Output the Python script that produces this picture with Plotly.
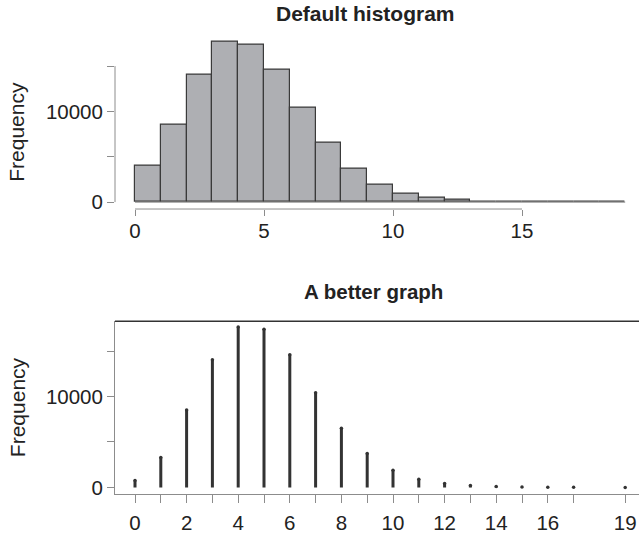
import numpy as np
import plotly.graph_objects as go

# ---- data ----
values = [0, 1, 2, 3, 4, 5, 6, 7, 8, 9, 10, 11, 12, 13, 14, 15, 16, 17, 19]
counts = [760, 3300, 8520, 14060, 17650, 17420, 14600, 10420, 6520, 3740,
          1900, 900, 440, 220, 90, 35, 12, 4, 1]
hist_breaks = list(range(0, 20))
top_xticks = [0, 5, 10, 15]
y_ticks = [0, 5000, 10000, 15000]
y_ticktext = ["0", "", "10000", ""]
bottom_ticktext = [str(v) if (v % 2 == 0 or v == 19) else "" for v in values]

# R-style histogram (right-closed bins, lowest included)
nb = len(hist_breaks) - 1
heights = np.zeros(nb)
for v, c in zip(values, counts):
    idx = max(int(np.searchsorted(hist_breaks, v, side="left")) - 1, 0)
    heights[idx] += c
mids = [(hist_breaks[i] + hist_breaks[i + 1]) / 2 for i in range(nb)]

W, H = 639, 534
FONT = "Liberation Sans, Arial, Helvetica, sans-serif"
AX = "#8c8c8c"
TXT = "#222222"

def py(pix):
    return (H - pix) / H

x_range = [-0.775, 19.535]
x_dom = [115 / W, 1.0]

fig = go.Figure()
fig.add_trace(go.Bar(x=mids, y=heights, width=1.0,
                     marker=dict(color="#aeafb3", line=dict(color="#3a3a3a", width=1.2)),
                     xaxis="x", yaxis="y", showlegend=False))

sx, sy = [], []
for v, c in zip(values, counts):
    sx += [v, v, None]
    sy += [0, c, None]
fig.add_trace(go.Scatter(x=sx, y=sy, mode="lines", line=dict(color="#333333", width=3),
                         xaxis="x2", yaxis="y2", showlegend=False, hoverinfo="skip"))
fig.add_trace(go.Scatter(x=values, y=counts, mode="markers",
                         marker=dict(color="#333333", size=3.5, symbol="circle"),
                         xaxis="x2", yaxis="y2", showlegend=False))

tickfont = dict(family=FONT, size=20.5, color=TXT)
common_y = dict(tickvals=y_ticks, ticktext=y_ticktext, ticks="outside", ticklen=7,
                tickcolor=AX, tickwidth=1, tickfont=tickfont, showgrid=False,
                zeroline=False, fixedrange=True)

fig.update_layout(
    width=W, height=H, margin=dict(l=0, r=0, t=0, b=0),
    paper_bgcolor="white", plot_bgcolor="white", bargap=0,
    xaxis=dict(domain=x_dom, range=x_range, anchor="y", tickvals=top_xticks,
               ticks="outside", ticklen=6, tickcolor=AX, tickfont=tickfont,
               showline=False, showgrid=False, zeroline=False, ticklabelstandoff=-3),
    yaxis=dict(domain=[py(211), py(36)], range=[-765, 18361], anchor="x",
               showline=False, **common_y),
    xaxis2=dict(domain=x_dom, range=x_range, anchor="y2", tickvals=values,
                ticktext=bottom_ticktext, ticks="outside", ticklen=8, tickcolor=AX,
                tickfont=tickfont, showline=True, linecolor=AX, linewidth=1,
                showgrid=False, zeroline=False, ticklabelstandoff=3),
    yaxis2=dict(domain=[py(498.3), py(324.3)], range=[-687, 18288], anchor="x2",
                showline=True, linecolor=AX, linewidth=1, **common_y),
)

# R-style axis lines for the top panel (span only the tick range)
fig.add_shape(type="line", xref="x", yref="paper", x0=top_xticks[0], x1=top_xticks[-1],
              y0=py(211), y1=py(211), line=dict(color=AX, width=1))
fig.add_shape(type="line", xref="paper", yref="y", x0=115 / W, x1=115 / W,
              y0=y_ticks[0], y1=y_ticks[-1], line=dict(color=AX, width=1))
# baseline of the histogram (zero-height bins)
fig.add_shape(type="line", xref="x", yref="y", x0=hist_breaks[0], x1=hist_breaks[-1],
              y0=0, y1=0, line=dict(color="#7a7a7a", width=1))
# top border of lower panel
fig.add_shape(type="line", xref="paper", yref="paper", x0=115 / W, x1=1,
              y0=py(324.3), y1=py(324.3), line=dict(color="#333333", width=1.5))

fig.add_annotation(text="<b>Default histogram</b>", xref="paper", yref="paper",
                   x=365 / W, y=py(14), showarrow=False, xanchor="center", yanchor="middle",
                   font=dict(family=FONT, size=21, color=TXT))
fig.add_annotation(text="<b>A better graph</b>", xref="paper", yref="paper",
                   x=373 / W, y=py(294), showarrow=False, xanchor="center", yanchor="middle",
                   font=dict(family=FONT, size=20.5, color=TXT))
for yc in (133, 411):
    fig.add_annotation(text="Frequency", xref="paper", yref="paper", x=17 / W, y=py(yc),
                       showarrow=False, textangle=-90, xanchor="center", yanchor="middle",
                       font=dict(family=FONT, size=21, color=TXT))

fig.write_html("out.html")
